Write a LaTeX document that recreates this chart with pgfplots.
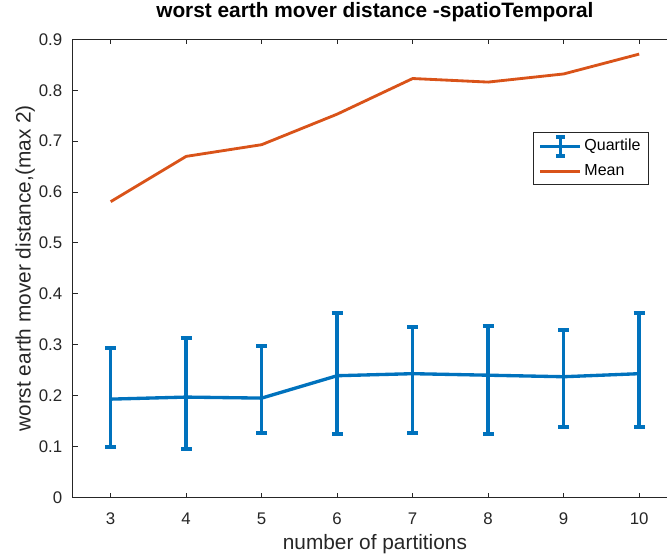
\documentclass[border=0pt]{standalone}
\usepackage{fontspec}
\setmainfont{Liberation Sans}
\usepackage{pgfplots}
\pgfplotsset{compat=1.18}
\definecolor{mblue}{rgb}{0,0.447,0.741}
\definecolor{morange}{rgb}{0.85,0.325,0.098}
\definecolor{axgray}{rgb}{0.15,0.15,0.15}
\begin{document}
\begin{tikzpicture}
\begin{axis}[
  scale only axis,
  width=362.4pt, height=274.8pt,
  xmin=2.5, xmax=10.5, ymin=0, ymax=0.9,
  xtick={3,4,5,6,7,8,9,10},
  ytick={0,0.1,0.2,0.3,0.4,0.5,0.6,0.7,0.8,0.9},
  /pgf/number format/assume math mode=true,
  /pgf/number format/fixed,
  tick align=inside,
  major tick length=2.8pt,
  axis line style={axgray, line width=0.5pt},
  tick style={axgray, line width=0.5pt},
  tick label style={font=\fontsize{10.1}{12}\selectfont, text=axgray},
  xticklabel style={anchor=base, yshift=-16.5pt},
  yticklabel style={anchor=east, xshift=-2.9pt},
  title={worst earth mover distance -spatioTemporal},
  title style={font=\bfseries\fontsize{12.5}{14}\selectfont, at={(axis description cs:0.5,1)}, anchor=base, yshift=7.2pt},
  xlabel={number of partitions},
  xlabel style={font=\fontsize{12.5}{14}\selectfont, text=axgray, at={(axis description cs:0.5,0)}, anchor=base, yshift=-31pt},
  ylabel={worst earth mover distance,(max 2)},
  ylabel style={font=\fontsize{12.5}{14}\selectfont, text=axgray, at={(axis description cs:-0.070,0.5)}, anchor=base},
  legend style={at={(0.9526,0.798)}, anchor=north east, draw=axgray, line width=0.4pt,
    inner xsep=3pt, inner ysep=1.7pt, row sep=2pt, column sep=0pt,
    font=\fontsize{9.6}{11}\selectfont,
    nodes={inner sep=1.5pt, text height=7pt, text depth=2pt}},
  legend cell align=left,
]
\addplot[mblue, line width=2pt,
  error bars/.cd, y dir=both, y explicit,
  error bar style={mblue, line width=2pt},
  error mark options={mblue, line width=2.4pt, mark size=3.3pt, rotate=90},
  /pgfplots/legend image code/.code={
    \draw[mblue, line width=2pt] (0pt,0pt) -- (24pt,0pt);
    \draw[mblue, line width=2pt] (12pt,-5.8pt) -- (12pt,5.8pt);
    \draw[mblue, line width=2.4pt] (9.3pt,5.8pt) -- (14.7pt,5.8pt);
    \draw[mblue, line width=2.4pt] (9.3pt,-5.8pt) -- (14.7pt,-5.8pt);
  }]
coordinates {
  (3,0.193) += (0,0.100) -= (0,0.095)
  (4,0.197) += (0,0.116) -= (0,0.1025)
  (5,0.195) += (0,0.103) -= (0,0.068)
  (6,0.239) += (0,0.123) -= (0,0.115)
  (7,0.243) += (0,0.092) -= (0,0.116)
  (8,0.240) += (0,0.097) -= (0,0.115)
  (9,0.237) += (0,0.092) -= (0,0.099)
  (10,0.243) += (0,0.119) -= (0,0.105)
};
\addlegendentry{Quartile}
\addplot[morange, line width=1.7pt,
  legend image code/.code={\draw[morange, line width=1.7pt] (0pt,0pt) -- (24pt,0pt);}]
coordinates {
  (3,0.581) (4,0.670) (5,0.693) (6,0.753) (7,0.823) (8,0.816) (9,0.832) (10,0.871)
};
\addlegendentry{Mean}
\end{axis}
\pgfresetboundingbox
\path[use as bounding box] ([xshift=-43.75pt,yshift=-34pt]current axis.south west) rectangle ++(400.2pt,332.4pt);
\end{tikzpicture}
\end{document}
